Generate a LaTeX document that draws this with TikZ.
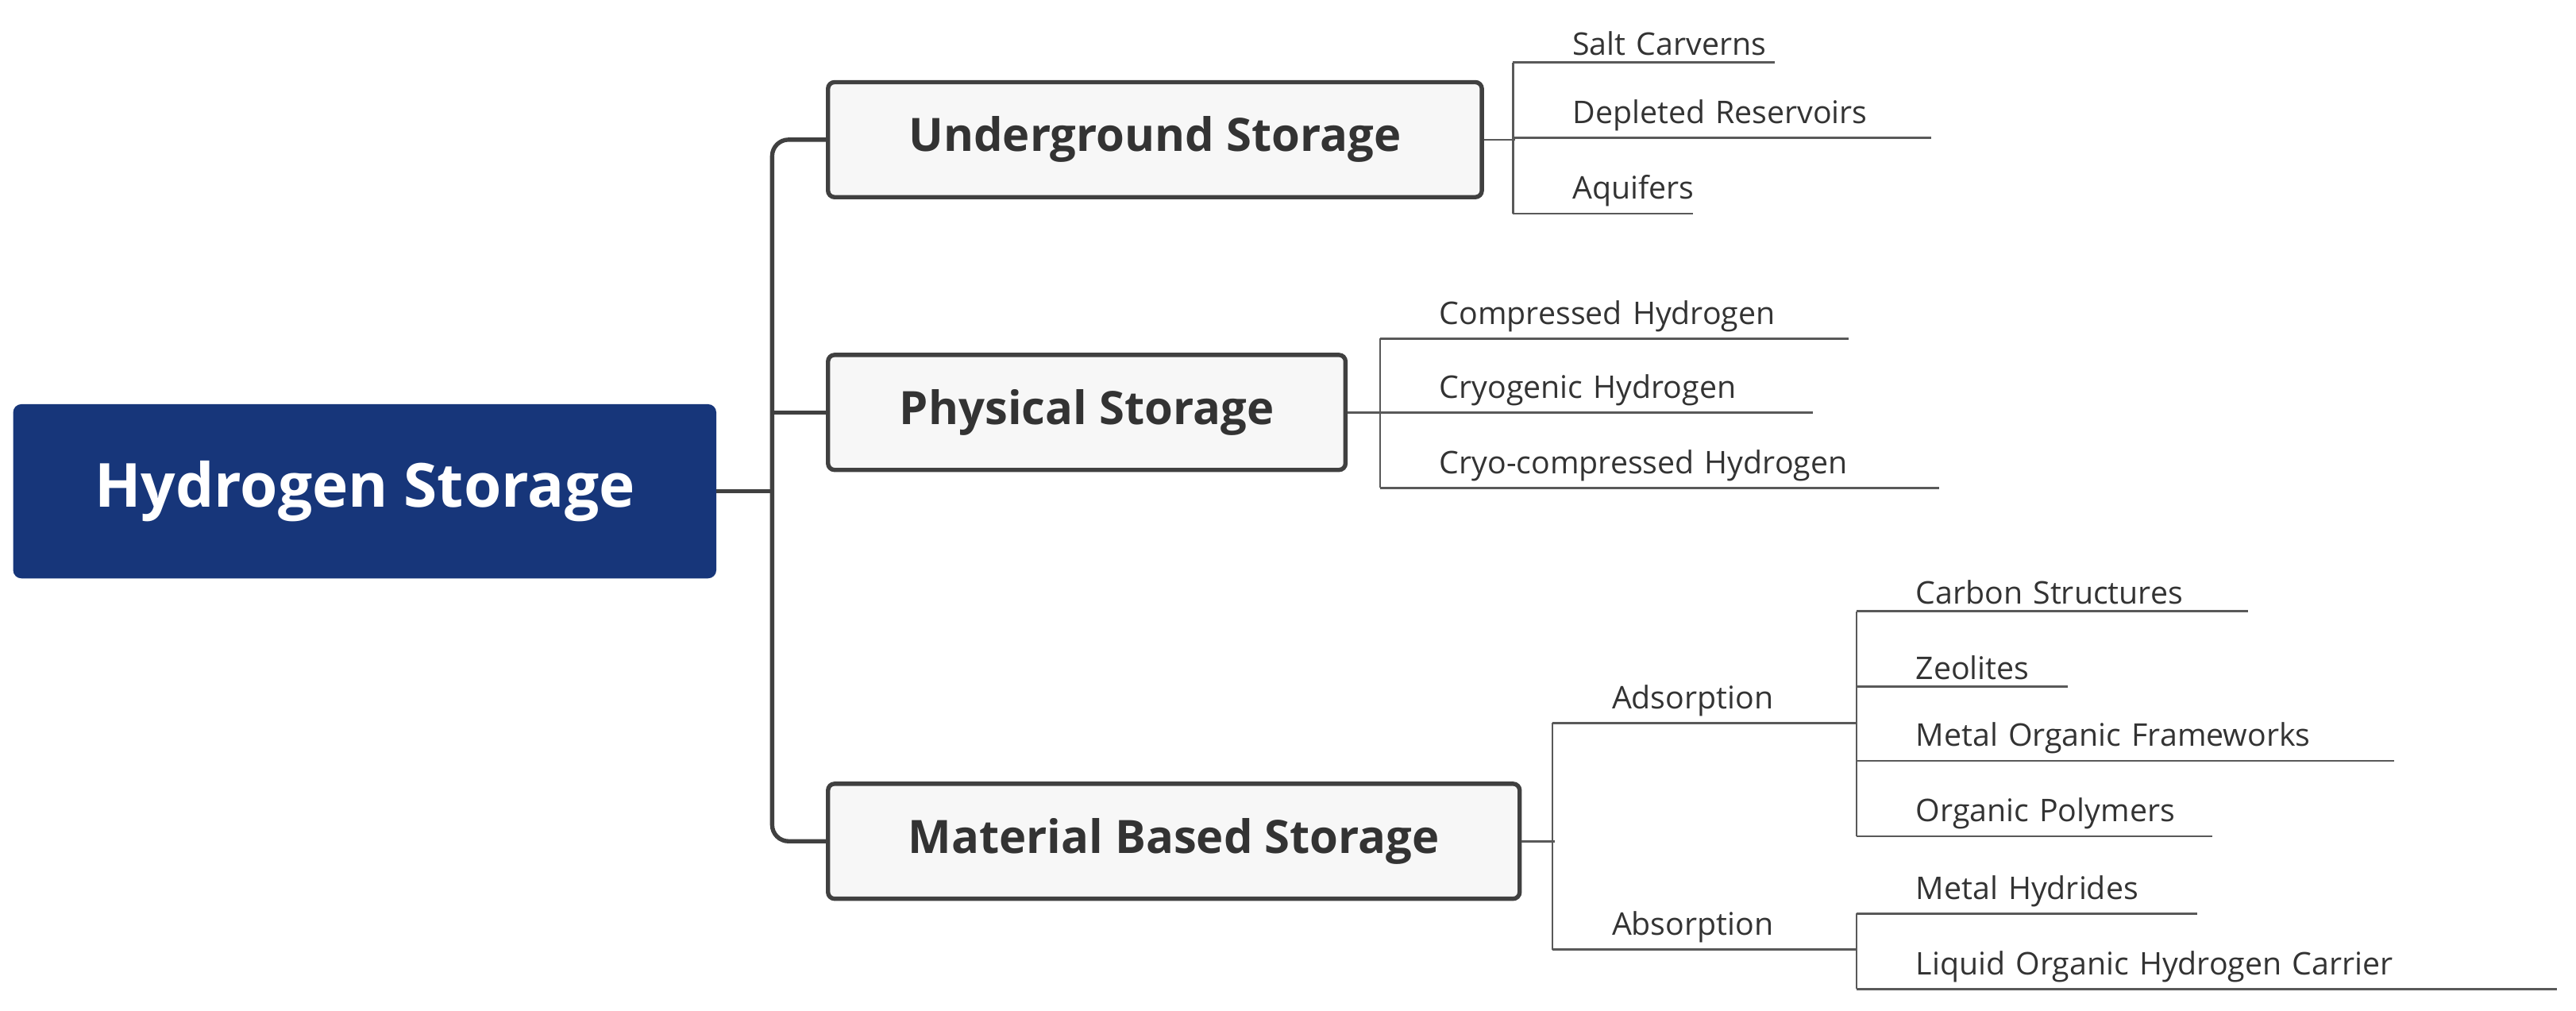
\documentclass[tikz,border=0pt]{standalone}
\usepackage{fontspec}
\setmainfont{Open Sans}
\begin{document}
\begin{tikzpicture}[x=1pt,y=1pt,
  box/.style={draw=black!75,line width=2.6pt,fill=black!3,rounded corners=4pt,minimum height=70pt,inner xsep=0pt,font=\fontsize{28}{34}\selectfont\bfseries,text=black!80},
  leaf/.style={anchor=south west,inner xsep=0pt,inner ysep=4pt,align=left,font=\fontsize{19}{23}\selectfont,text=black!80},
  ln/.style={draw=black!65,line width=1.3pt},
  br/.style={ln,rounded corners=8pt},
  tr/.style={draw=black!75,line width=2.6pt,rounded corners=10pt}]
\useasboundingbox (0,0) rectangle (1568,-615);
\node[fill={rgb,255:red,23;green,54;blue,122},rounded corners=5pt,minimum width=428pt,minimum height=106pt,text=white,font=\fontsize{37}{44}\selectfont\bfseries] (root) at (222,-299) {Hydrogen Storage};
\node[box,minimum width=398pt] (U) at (703,-85) {Underground Storage};
\node[box,minimum width=315pt] (P) at (661.5,-251) {Physical Storage};
\node[box,minimum width=421pt] (M) at (714.5,-512) {Material Based Storage};
\coordinate (t) at (470,-299);
\draw[tr] (root.east) -- (t);
\draw[tr] (U.west) -- (U.west -| t) -- (M.west -| t) -- (M.west);
\draw[tr] (P.west) -- (P.west -| t);
\newcommand{\lf}[5]{\node[leaf,text width=#4-36pt] (#1) at (#2+36,#3) {\mbox{#5}};
  \draw[ln] (#1.south west) ++(-36,0) -- (#1.south east);}
\lf{u1}{921}{-38}{159pt}{Salt Carverns}
\lf{u2}{921}{-84}{254pt}{Depleted Reservoirs}
\lf{u3}{921}{-130}{109pt}{Aquifers}
\draw[br] (u1.south west) ++(-36,0) -- ++(0,-92);
\draw[ln] (U.east) -- ++(19,0);
\lf{p1}{840}{-206}{285pt}{Compressed Hydrogen}
\lf{p2}{840}{-251}{263pt}{Cryogenic Hydrogen}
\lf{p3}{840}{-297}{340pt}{Cryo-compressed Hydrogen}
\draw[br] (p1.south west) ++(-36,0) -- ++(0,-91);
\draw[ln] (P.east) -- ++(21,0);
\lf{ad}{945}{-440}{185pt}{Adsorption}
\lf{ab}{945}{-578}{185pt}{Absorption}
\draw[br] (ad.south west) ++(-36,0) -- ++(0,-138);
\draw[ln] (M.east) -- ++(20,0);
\lf{c1}{1130}{-372}{238pt}{Carbon Structures}
\lf{c2}{1130}{-418}{128pt}{Zeolites}
\lf{c3}{1130}{-463}{327pt}{Metal Organic Frameworks}
\lf{c4}{1130}{-509}{216pt}{Organic Polymers}
\draw[br] (c1.south west) ++(-36,0) -- ++(0,-137);
\lf{d1}{1130}{-556}{207pt}{Metal Hydrides}
\lf{d2}{1130}{-602}{426pt}{Liquid Organic Hydrogen Carrier}
\draw[br] (d1.south west) ++(-36,0) -- ++(0,-46);
\end{tikzpicture}
\end{document}
